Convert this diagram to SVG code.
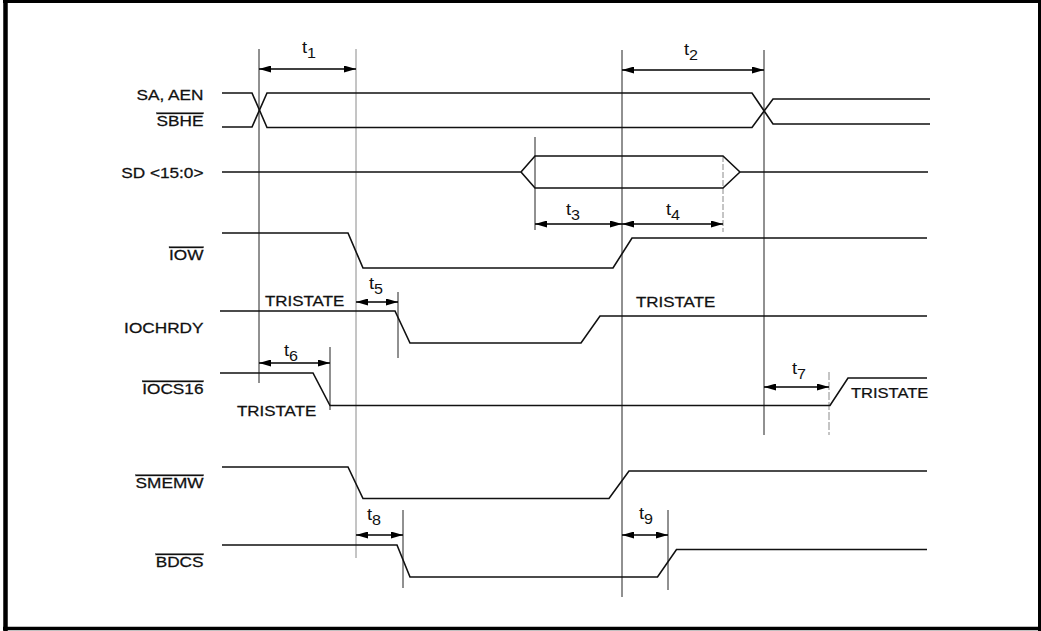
<svg xmlns="http://www.w3.org/2000/svg" width="1041" height="631" viewBox="0 0 1041 631">
<style>
.frame{fill:none;stroke:#000;}
.sig{fill:none;stroke:#111;stroke-width:1.6;stroke-linejoin:miter;}
.v{stroke:#222;stroke-width:1;}
.vg{stroke:#8a8a8a;stroke-width:1;}
.dim{stroke:#000;stroke-width:1.5;marker-start:url(#ah);marker-end:url(#ah);}
.lbl{font-family:"Liberation Sans",Arial,sans-serif;font-size:14px;fill:#111;stroke:#111;stroke-width:0.25;}
.ol{text-decoration:overline;}
.t{font-family:"Liberation Sans",Arial,sans-serif;font-size:16px;fill:#111;}
.sub{font-size:14px;}
</style>
<defs>
<marker id="ah" viewBox="0 0 12 7" refX="12" refY="3.5" markerWidth="12" markerHeight="7" markerUnits="userSpaceOnUse" orient="auto-start-reverse">
<path d="M0,0 L12,3.5 L0,7 z" fill="#000"/>
</marker>
</defs>
<rect width="1041" height="631" fill="#fff"/>
<g id="frame">
<line class="frame" x1="5.5" y1="0" x2="5.5" y2="631" stroke-width="4.5"/>
<line class="frame" x1="3" y1="1.5" x2="1041" y2="1.5" stroke-width="3"/>
<line class="frame" x1="1039.5" y1="0" x2="1039.5" y2="631" stroke-width="3"/>
<line class="frame" x1="3" y1="628.5" x2="1041" y2="628.5" stroke-width="3.5"/>
</g>
<g id="connectors">
<g id="guides">
<line class="v" x1="259" y1="49" x2="259" y2="383"/>
<line class="vg" x1="356" y1="49" x2="356" y2="558"/>
<line class="v" x1="622" y1="50" x2="622" y2="597"/>
<line class="v" x1="764" y1="50" x2="764" y2="435"/>
<line class="v" x1="535" y1="137" x2="535" y2="230"/>
<line class="vg" x1="723" y1="156" x2="723" y2="232" stroke-dasharray="6,2"/>
<line class="v" x1="398" y1="292" x2="398" y2="358"/>
<line class="v" x1="330" y1="347" x2="330" y2="410"/>
<line class="v" x1="403" y1="510" x2="403" y2="588"/>
<line class="v" x1="668" y1="510" x2="668" y2="590"/>
<line class="vg" x1="829" y1="372" x2="829" y2="435" stroke-dasharray="8,2"/>
</g>
<g id="dimensions">
<line class="dim" x1="259" y1="69" x2="356" y2="69"/>
<line class="dim" x1="622" y1="70" x2="764" y2="70"/>
<line class="dim" x1="535" y1="224" x2="622" y2="224"/>
<line class="dim" x1="622" y1="224" x2="723" y2="224"/>
<line class="dim" x1="356" y1="302" x2="398" y2="302"/>
<line class="dim" x1="259" y1="363" x2="330" y2="363"/>
<line class="dim" x1="764" y1="387" x2="829" y2="387"/>
<line class="dim" x1="356" y1="535" x2="403" y2="535"/>
<line class="dim" x1="622" y1="535" x2="668" y2="535"/>
</g>
</g>
<g id="sig-sa">
<path class="sig" d="M222,93 H252 L267,127.5 H752 L773,99 H930"/>
<path class="sig" d="M222,127 H252 L267,93 H752 L773,124 H930"/>
<text class="lbl" text-anchor="end" transform="translate(203.5,100) scale(1.23,1)">SA, AEN</text>
<text class="lbl ol" text-anchor="end" transform="translate(203.5,126) scale(1.23,1)">SBHE</text>
</g>
<g id="sig-sd">
<path class="sig" d="M222,172 H521 L535,156 H723 L740,172 H928"/>
<path class="sig" d="M521,172 L535,188 H723 L740,172"/>
<text class="lbl" text-anchor="end" transform="translate(203.5,177.5) scale(1.23,1)">SD &lt;15:0&gt;</text>
</g>
<g id="sig-iow">
<path class="sig" d="M222,233 H348 L363,268 H613 L632,238 H927"/>
<text class="lbl ol" text-anchor="end" transform="translate(203.5,260) scale(1.23,1)">IOW</text>
</g>
<g id="sig-iochrdy">
<path class="sig" d="M220,311 H395 L410,343 H581 L600,316 H927"/>
<text class="lbl" text-anchor="end" transform="translate(203.5,333) scale(1.23,1)">IOCHRDY</text>
<text class="lbl" transform="translate(265,306) scale(1.21,1)">TRISTATE</text>
<text class="lbl" transform="translate(636,307) scale(1.21,1)">TRISTATE</text>
</g>
<g id="sig-iocs16">
<path class="sig" d="M220,373 H313 L330,405.5 H830 L848,378 H927"/>
<text class="lbl ol" text-anchor="end" transform="translate(203.5,394) scale(1.23,1)">IOCS16</text>
<text class="lbl" transform="translate(237,416) scale(1.21,1)">TRISTATE</text>
<text class="lbl" transform="translate(851,397.5) scale(1.18,1)">TRISTATE</text>
</g>
<g id="sig-smemw">
<path class="sig" d="M222,467 H348 L363,498.5 H609 L629,471 H927"/>
<text class="lbl ol" text-anchor="end" transform="translate(203.5,488) scale(1.23,1)">SMEMW</text>
</g>
<g id="sig-bdcs">
<path class="sig" d="M222,545 H397 L410,577 H657.5 L676.5,549.5 H927"/>
<text class="lbl ol" text-anchor="end" transform="translate(203.5,567) scale(1.23,1)">BDCS</text>
</g>
<g id="timing-labels">
<text class="t" transform="translate(302,53) scale(1.15,1)">t<tspan class="sub" dy="5">1</tspan></text>
<text class="t" transform="translate(684,55) scale(1.15,1)">t<tspan class="sub" dy="5">2</tspan></text>
<text class="t" transform="translate(566,215) scale(1.15,1)">t<tspan class="sub" dy="5">3</tspan></text>
<text class="t" transform="translate(666,215) scale(1.15,1)">t<tspan class="sub" dy="5">4</tspan></text>
<text class="t" transform="translate(369,289) scale(1.15,1)">t<tspan class="sub" dy="5">5</tspan></text>
<text class="t" transform="translate(284,356) scale(1.15,1)">t<tspan class="sub" dy="5">6</tspan></text>
<text class="t" transform="translate(792,374) scale(1.15,1)">t<tspan class="sub" dy="5">7</tspan></text>
<text class="t" transform="translate(367,520) scale(1.15,1)">t<tspan class="sub" dy="5">8</tspan></text>
<text class="t" transform="translate(639,519) scale(1.15,1)">t<tspan class="sub" dy="5">9</tspan></text>
</g>
</svg>
